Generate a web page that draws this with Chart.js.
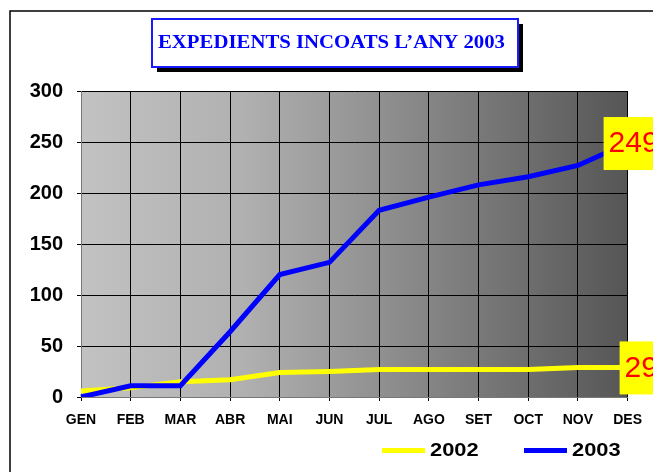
<!DOCTYPE html>
<html>
<head>
<meta charset="utf-8">
<script src="https://cdn.jsdelivr.net/npm/chart.js@4/dist/chart.umd.min.js"></script>
<style>
  html, body { margin: 0; padding: 0; background: #fff; }
  canvas { display: block; }
</style>
</head>
<body>
<canvas id="myChart" width="653" height="472"></canvas>
<script>
const titleText = 'EXPEDIENTS INCOATS L\u2019ANY 2003';
const months = ['GEN', 'FEB', 'MAR', 'ABR', 'MAI', 'JUN', 'JUL', 'AGO', 'SET', 'OCT', 'NOV', 'DES'];
const seriesNames = ['2002', '2003'];
const exp2002 = [6, 9, 15, 17, 24, 25, 27, 27, 27, 27, 29, 29];
const exp2003 = [0, 11, 11, 64, 120, 132, 183, 196, 208, 216, 227, 249];
const yTicks = [0, 50, 100, 150, 200, 250, 300];

// background, frame, title box, end labels and legend
const decor = {
	id: 'decor',
	beforeDraw(chart) {
		const { ctx, chartArea: a } = chart;
		const g = ctx.createLinearGradient(a.left, 0, a.right, 0);
		g.addColorStop(0, '#c2c2c2');
		g.addColorStop(0.3, '#b0b0b0');
		g.addColorStop(1, '#565656');
		ctx.save();
		ctx.fillStyle = g;
		ctx.fillRect(a.left, a.top, a.right - a.left, a.bottom - a.top);
		ctx.restore();
	},
	afterDraw(chart) {
		const { ctx, chartArea: a } = chart;
		ctx.save();

		// outer frame
		ctx.strokeStyle = '#000';
		ctx.lineWidth = 1.5;
		ctx.strokeRect(10, 11, 700, 500);

		// title box with shadow
		ctx.fillStyle = '#000';
		ctx.fillRect(157, 24, 366, 48);
		ctx.fillStyle = '#fff';
		ctx.fillRect(152, 19, 366, 48);
		ctx.strokeStyle = '#1a1aff';
		ctx.lineWidth = 2;
		ctx.strokeRect(152, 19, 366, 48);
		ctx.font = 'bold 18px "Liberation Serif"';
		ctx.fillStyle = '#0000ff';
		ctx.textBaseline = 'middle';
		const tw = ctx.measureText(titleText).width;
		ctx.save();
		ctx.translate(158, 43);
		ctx.scale(347 / tw, 1);
		ctx.textAlign = 'left';
		ctx.fillText(titleText, 0, 0);
		ctx.restore();

		// value labels at the last point of each series
		const boxOffsets = [8, 24];
		chart.data.datasets.forEach((ds, i) => {
			const meta = chart.getDatasetMeta(i);
			const last = meta.data[meta.data.length - 1];
			const val = ds.data[ds.data.length - 1];
			const bx = last.x - boxOffsets[i];
			ctx.fillStyle = '#ffff00';
			ctx.fillRect(bx, last.y - 26, 80, 53);
			ctx.fillStyle = '#ff0000';
			ctx.font = '30px "Liberation Sans"';
			ctx.textAlign = 'left';
			ctx.textBaseline = 'middle';
			ctx.fillText(String(val), bx + 5, last.y + 1);
		});

		// legend
		const legendX = [382, 524];
		ctx.font = 'bold 19px "Liberation Sans"';
		chart.data.datasets.forEach((ds, i) => {
			ctx.fillStyle = ds.borderColor;
			ctx.fillRect(legendX[i], 448, 43, 5);
			ctx.fillStyle = '#000';
			ctx.textAlign = 'left';
			ctx.textBaseline = 'middle';
			ctx.save();
			ctx.translate(legendX[i] + 48, 451);
			ctx.scale(1.15, 1);
			ctx.fillText(ds.label, 0, 0);
			ctx.restore();
		});
		ctx.restore();
	}
};

const data = {
	labels: months,
	datasets: [{
		label: seriesNames[0],
		data: exp2002,
		borderColor: '#ffff00',
		backgroundColor: '#ffff00',
		borderWidth: 5,
		pointRadius: 0,
		tension: 0,
		order: 2
	},
	{
		label: seriesNames[1],
		data: exp2003,
		borderColor: '#0000ff',
		backgroundColor: '#0000ff',
		borderWidth: 5,
		pointRadius: 0,
		tension: 0,
		order: 1
	}]
};

const config = {
	type: 'line',
	data,
	plugins: [decor],
	options: {
		responsive: false,
		animation: false,
		layout: { padding: { left: 0, top: 91, right: 24, bottom: 0 } },
		plugins: {
			legend: { display: false },
			tooltip: { enabled: false },
			title: { display: false }
		},
		scales: {
			x: {
				offset: false,
				afterFit: s => { s.height = 75; },
				grid: { color: '#000', lineWidth: 1, tickLength: 4, tickColor: '#000' },
				border: { color: '#777', width: 1 },
				ticks: {
					color: '#000',
					padding: 11,
					maxRotation: 0,
					autoSkip: false,
					font: { family: 'Liberation Sans', size: 14, weight: 'bold' }
				}
			},
			y: {
				min: 0,
				max: 300,
				afterFit: s => { s.width = 81; },
				afterBuildTicks: s => { s.ticks = yTicks.map(v => ({ value: v })); },
				grid: { color: '#000', lineWidth: 1, tickLength: 4, tickColor: '#000' },
				border: { color: '#777', width: 1 },
				ticks: {
					color: '#000',
					padding: 14,
					font: { family: 'Liberation Sans', size: 20, weight: 'bold' }
				}
			}
		}
	}
};

const myChart = new Chart(document.getElementById('myChart'), config);
</script>
</body>
</html>
